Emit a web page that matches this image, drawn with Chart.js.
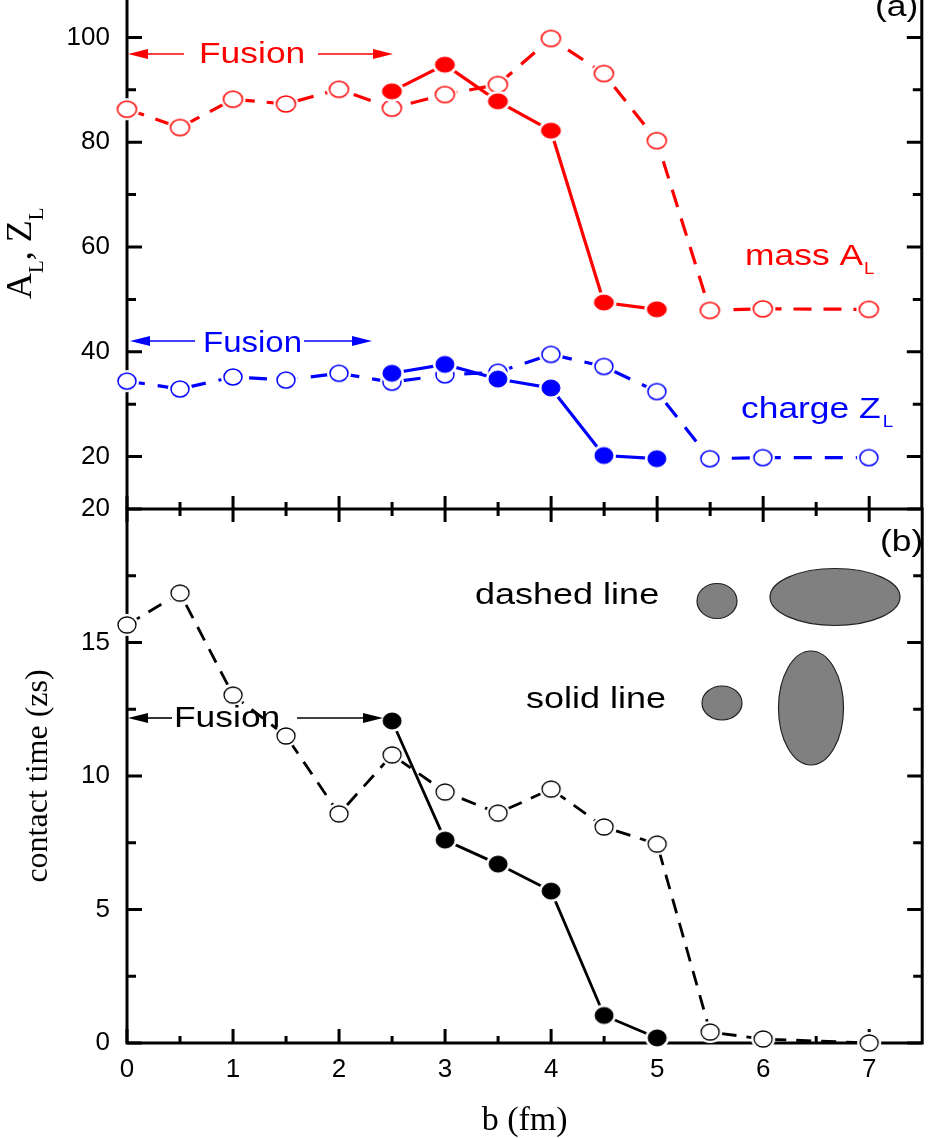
<!DOCTYPE html>
<html><head><meta charset="utf-8">
<script src="https://cdn.jsdelivr.net/npm/chart.js@4.4.1/dist/chart.umd.min.js"></script>
<style>
html,body{margin:0;padding:0;background:#fff;}
#wrap{position:relative;width:933px;height:1138px;overflow:hidden;}
canvas{position:absolute;left:0;top:0;}
</style></head><body>
<div id="wrap">
<canvas id="cA" width="933" height="1138"></canvas>
<canvas id="cB" width="933" height="1138"></canvas>
</div>
<script>
// ---- data ----
const bAll = [0, 0.5, 1, 1.5, 2, 2.5, 3, 3.5, 4, 4.5, 5, 5.5, 6, 7];
const bFusion = [2.5, 3, 3.5, 4, 4.5, 5];
const massOpen = [86.3, 82.8, 88.2, 87.3, 90.1, 86.5, 89.1, 91.0, 99.8, 93.1, 80.3, 47.9, 48.2, 48.1];
const massFilled = [89.7, 94.8, 87.8, 82.2, 49.4, 48.1];
const chargeOpen = [34.4, 32.9, 35.2, 34.6, 35.9, 34.2, 35.6, 36.1, 39.5, 37.2, 32.4, 19.6, 19.8, 19.8];
const chargeFilled = [35.9, 37.6, 34.8, 33.1, 20.2, 19.6];
const timeOpen = [15.66, 16.85, 13.03, 11.5, 8.58, 10.79, 9.40, 8.61, 9.51, 8.09, 7.45, 0.41, 0.15, 0.0];
const timeFilled = [12.06, 7.60, 6.70, 5.69, 1.03, 0.19];

const xTicks = [0, 0.5, 1, 1.5, 2, 2.5, 3, 3.5, 4, 4.5, 5, 5.5, 6, 6.5, 7];
const xLabels = [0, 1, 2, 3, 4, 5, 6, 7];
const yTicksA = [20, 30, 40, 50, 60, 70, 80, 90, 100];
const yLabelsA = [20, 40, 60, 80, 100];
const yTicksB = [0, 2.5, 5, 7.5, 10, 12.5, 15, 17.5, 20];
const yLabelsB = [0, 5, 10, 15, 20];

const SANS = "'Liberation Sans', Arial, sans-serif";
const SERIF = "'Liberation Serif', 'Times New Roman', serif";

function pts(xs, ys){ return xs.map((x,i)=>({x:x, y:ys[i]})); }
function marker(fill, stroke, rx, ry, lw, halo){
  const c = document.createElement('canvas');
  c.width = Math.ceil(2*(rx + halo) + 4); c.height = Math.ceil(2*(ry + halo) + 4);
  const g = c.getContext('2d');
  g.beginPath(); g.ellipse(c.width/2, c.height/2, rx + halo, ry + halo, 0, 0, 2*Math.PI);
  g.fillStyle = '#ffffff'; g.fill();
  g.beginPath(); g.ellipse(c.width/2, c.height/2, rx, ry, 0, 0, 2*Math.PI);
  g.fillStyle = fill; g.fill();
  g.lineWidth = lw; g.strokeStyle = stroke; g.stroke();
  return c;
}
function fixTicks(values){ return function(scale){ scale.ticks = values.map(v=>({value:v})); }; }
function fixSize(prop, val){ return function(scale){ scale[prop] = val; scale.paddingTop = 0; scale.paddingBottom = 0; scale.paddingLeft = 0; scale.paddingRight = 0; }; }

function arrow(ctx, x1, x2, y, color){
  const dir = Math.sign(x2 - x1), hl = 20, hw = 5;
  ctx.save(); ctx.strokeStyle = color; ctx.fillStyle = color; ctx.lineWidth = 1.6;
  ctx.beginPath(); ctx.moveTo(x1, y); ctx.lineTo(x2 - dir*hl*0.8, y); ctx.stroke();
  ctx.beginPath(); ctx.moveTo(x2, y); ctx.lineTo(x2 - dir*hl, y - hw); ctx.lineTo(x2 - dir*hl, y + hw); ctx.closePath(); ctx.fill();
  ctx.restore();
}
function txt(ctx, s, x, y, size, color, sx, family){
  ctx.save(); ctx.font = size + 'px ' + (family || SANS); ctx.fillStyle = color;
  ctx.textBaseline = 'alphabetic'; ctx.textAlign = 'left';
  ctx.translate(x, y); ctx.scale(sx, 1); ctx.fillText(s, 0, 0);
  const w = ctx.measureText(s).width * sx; ctx.restore(); return w;
}
function frameLines(ctx, segs){
  ctx.save(); ctx.strokeStyle = '#000'; ctx.lineWidth = 3; ctx.lineCap = 'butt';
  ctx.beginPath(); segs.forEach(s=>{ ctx.moveTo(s[0], s[1]); ctx.lineTo(s[2], s[3]); }); ctx.stroke(); ctx.restore();
}
function yTickMarks(ctx, a, scale, values, majors){
  const segs = [];
  values.forEach(v=>{
    const py = scale.getPixelForValue(v); const L = majors.includes(v) ? 15 : 9;
    segs.push([a.left, py, a.left + L, py]); segs.push([a.right, py, a.right - L, py]);
  });
  frameLines(ctx, segs);
}

const mk = {
  redOpen: marker('#ffffff', '#ff0000', 9.5, 8, 1.5, 3),
  redFill: marker('#ff0000', '#ff0000', 9.5, 7.5, 1, 3),
  blueOpen: marker('#ffffff', '#0000ff', 9, 8, 1.5, 3),
  blueFill: marker('#0000ff', '#0000ff', 9, 8, 1, 3),
  blackOpen: marker('#ffffff', '#000000', 9, 8, 1.3, 3),
  blackFill: marker('#000000', '#000000', 9, 8, 1, 3)
};

function ds(xs, ys, color, dash, lw, style){
  return { data: pts(xs, ys), borderColor: color, backgroundColor: color, borderWidth: lw,
    borderDash: dash, tension: 0, pointStyle: style, pointRadius: 8, pointHoverRadius: 8, clip: false, fill: false };
}

// ---------- top chart ----------
const plugA = {
  id: 'plugA',
  beforeDatasetsDraw(chart){
    const {ctx, chartArea: a, scales: {y}} = chart;
    frameLines(ctx, [[a.left, 0, a.left, a.bottom], [a.right, 0, a.right, a.bottom]]);
    yTickMarks(ctx, a, y, yTicksA, yLabelsA);
  },
  afterDatasetsDraw(chart){
    const ctx = chart.ctx;
    // red Fusion
    arrow(ctx, 184, 128, 54, '#ff0000');
    txt(ctx, 'Fusion', 199, 63, 30, '#ff0000', 1.18);
    arrow(ctx, 318, 393, 54, '#ff0000');
    // blue Fusion
    arrow(ctx, 195, 130, 341, '#0000ff');
    txt(ctx, 'Fusion', 203, 352, 30, '#0000ff', 1.1);
    arrow(ctx, 304, 372, 341, '#0000ff');
    // mass A_L
    let w = txt(ctx, 'mass A', 745, 265, 30, '#ff0000', 1.18);
    txt(ctx, 'L', 745 + w + 1, 274, 17, '#ff0000', 1.1);
    // charge Z_L
    w = txt(ctx, 'charge Z', 741, 418, 30, '#0000ff', 1.18);
    txt(ctx, 'L', 741 + w + 2, 427, 17, '#0000ff', 1.1);
    // (a)
    txt(ctx, '(a)', 875, 16, 30, '#000', 1.18);
    // y title A_L, Z_L (rotated)
    ctx.save(); ctx.translate(31, 299); ctx.rotate(-Math.PI/2);
    let x = 0;
    x += txt(ctx, 'A', x, 0, 36, '#000', 1, SERIF);
    x += txt(ctx, 'L', x, 12, 21, '#000', 1, SERIF);
    x += txt(ctx, ', ', x, 0, 36, '#000', 1, SERIF);
    x += txt(ctx, 'Z', x, 0, 36, '#000', 1, SERIF);
    txt(ctx, 'L', x, 12, 21, '#000', 1, SERIF);
    ctx.restore();
  }
};

new Chart(document.getElementById('cA'), {
  type: 'line',
  data: { datasets: [
    ds(bFusion, massFilled, '#ff0000', [], 3.2, mk.redFill),
    ds(bAll, massOpen, '#ff0000', [18, 12], 3.2, mk.redOpen),
    ds(bFusion, chargeFilled, '#0000ff', [], 3.2, mk.blueFill),
    ds(bAll, chargeOpen, '#0000ff', [18, 13], 3.2, mk.blueOpen)
  ]},
  options: {
    responsive: false, animation: false, devicePixelRatio: 1, events: [],
    layout: { padding: { top: 2, bottom: 629, left: 0, right: 5 } },
    plugins: { legend: { display: false }, tooltip: { enabled: false } },
    scales: {
      x: { type: 'linear', min: 0, max: 7.5, display: false },
      y: { type: 'linear', min: 10, max: 105,
        afterBuildTicks: fixTicks(yTicksA), afterFit: fixSize('width', 127),
        grid: { display: false, drawTicks: false }, border: { display: false },
        ticks: { padding: 17, color: '#000', font: { family: SANS, size: 26 },
          callback: v => yLabelsA.includes(v) ? String(v) : '' } }
    }
  },
  plugins: [plugA]
});

// ---------- bottom chart ----------
function ellipse(ctx, cx, cy, rx, ry){
  ctx.save(); ctx.beginPath(); ctx.ellipse(cx, cy, rx, ry, 0, 0, 2*Math.PI);
  ctx.fillStyle = '#808080'; ctx.fill(); ctx.lineWidth = 1.2; ctx.strokeStyle = '#222'; ctx.stroke(); ctx.restore();
}
const plugB = {
  id: 'plugB',
  beforeDatasetsDraw(chart){
    const {ctx, chartArea: a, scales: {x, y}} = chart;
    frameLines(ctx, [[a.left, a.top, a.left, a.bottom + 1.5], [a.right, a.top, a.right, a.bottom + 1.5],
      [a.left - 1.5, a.top, a.right + 1.5, a.top], [a.left - 1.5, a.bottom, a.right + 1.5, a.bottom]]);
    yTickMarks(ctx, a, y, yTicksB, yLabelsB);
    const segs = [];
    xTicks.forEach(v=>{
      const px = x.getPixelForValue(v); const major = xLabels.includes(v);
      const t = major ? 13 : 7, bl = major ? 14 : 7;
      segs.push([px, a.top - t, px, a.top + t]);
      segs.push([px, a.bottom, px, a.bottom - bl]);
    });
    frameLines(ctx, segs);
  },
  afterDatasetsDraw(chart){
    const ctx = chart.ctx;
    txt(ctx, '(b)', 880, 551, 30, '#000', 1.18);
    txt(ctx, 'dashed line', 475, 604, 30, '#000', 1.2);
    txt(ctx, 'solid line', 526, 708, 30, '#000', 1.2);
    ellipse(ctx, 717, 601, 20, 17.5);
    ellipse(ctx, 835, 597, 65, 28.5);
    ellipse(ctx, 722, 703, 20, 17);
    ellipse(ctx, 811, 708, 32.5, 57);
    arrow(ctx, 172, 128, 718, '#000');
    txt(ctx, 'Fusion', 174, 727, 30, '#000', 1.18);
    arrow(ctx, 297, 383, 718, '#000');
  }
};

new Chart(document.getElementById('cB'), {
  type: 'line',
  data: { datasets: [
    ds(bFusion, timeFilled, '#000000', [], 2.8, mk.blackFill),
    ds(bAll, timeOpen, '#000000', [15, 10], 2.8, mk.blackOpen)
  ]},
  options: {
    responsive: false, animation: false, devicePixelRatio: 1, events: [],
    layout: { padding: { top: 509, bottom: 0, left: 0, right: 5 } },
    plugins: { legend: { display: false }, tooltip: { enabled: false } },
    scales: {
      x: { type: 'linear', min: 0, max: 7.5,
        afterBuildTicks: fixTicks(xTicks), afterFit: fixSize('height', 95),
        grid: { display: false, drawTicks: false }, border: { display: false },
        ticks: { padding: 11, color: '#000', maxRotation: 0, autoSkip: false, font: { family: SANS, size: 26 },
          callback: v => xLabels.includes(v) ? String(v) : '' },
        title: { display: true, text: 'b (fm)', color: '#000', font: { family: SERIF, size: 34, lineHeight: 1.0 }, padding: { top: 0, bottom: 0 } } },
      y: { type: 'linear', min: 0, max: 20,
        afterBuildTicks: fixTicks(yTicksB), afterFit: fixSize('width', 127),
        grid: { display: false, drawTicks: false }, border: { display: false },
        ticks: { padding: 17, color: '#000', font: { family: SANS, size: 26 },
          callback: v => yLabelsB.includes(v) ? String(v) : '' },
        title: { display: true, text: 'contact time (zs)', color: '#000', font: { family: SERIF, size: 32 }, padding: { top: 19, bottom: 0 } } }
    }
  },
  plugins: [plugB]
});
</script>
</body></html>
